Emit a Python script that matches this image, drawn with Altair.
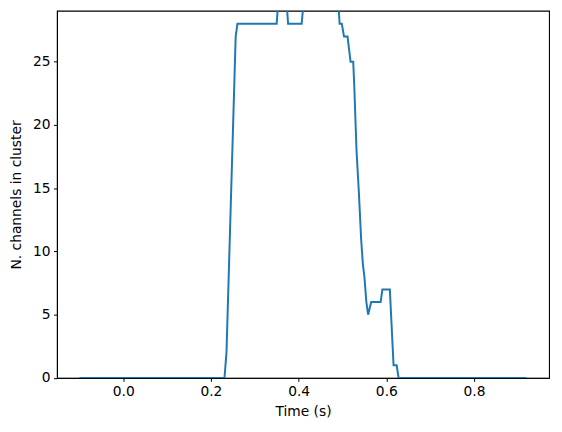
import altair as alt
import pandas as pd

# time (s) and number of channels in cluster
times = [-0.1, 0.231, 0.2355, 0.2565, 0.2605, 0.350, 0.354, 0.372, 0.376, 0.407,
         0.412, 0.490, 0.4935, 0.4985, 0.5035, 0.5115, 0.5185, 0.5245, 0.527,
         0.532, 0.5375, 0.5425, 0.5465, 0.550, 0.5545, 0.5585, 0.5655, 0.587,
         0.591, 0.608, 0.6165, 0.6235, 0.628, 0.92]
counts = [0, 0, 2, 27, 28, 28, 30, 30, 28, 28,
          30, 30, 28, 28, 27, 27, 25, 25, 23,
          18, 14.6, 11, 9, 8, 6, 5, 6, 6,
          7, 7, 1, 1, 0, 0]

x_ticks = [0.0, 0.2, 0.4, 0.6, 0.8]
y_ticks = [0, 5, 10, 15, 20, 25]

df = pd.DataFrame({"t": times, "n": counts})

FONT = "DejaVu Sans"
FS = 13.9

chart = alt.Chart(df).mark_line(color="#1f77b4", strokeWidth=2, clip=True).encode(
    x=alt.X("t:Q",
            scale=alt.Scale(domain=[-0.151, 0.971], nice=False, zero=False),
            axis=alt.Axis(title="Time (s)", values=x_ticks, format=".1f",
                          grid=False, domainColor="black", tickColor="black",
                          tickSize=3.5, labelPadding=3.5, labelFont=FONT,
                          labelFontSize=FS, labelColor="black", titleFont=FONT,
                          titleFontSize=FS, titleFontWeight="normal",
                          titleColor="black", titleY=34, titleBaseline="middle")),
    y=alt.Y("n:Q",
            scale=alt.Scale(domain=[0, 29.04], nice=False),
            axis=alt.Axis(title="N. channels in cluster", values=y_ticks, format="d",
                          grid=False, domainColor="black", tickColor="black",
                          tickSize=3.5, labelPadding=3.5, labelFont=FONT,
                          labelFontSize=FS, labelColor="black", titleFont=FONT,
                          titleFontSize=FS, titleFontWeight="normal",
                          titleColor="black", titleX=-40.6, titleY=185,
                          titleAngle=270, titleAlign="center",
                          titleBaseline="middle")),
).properties(
    width=495.4,
    height=369.7,
    autosize=alt.AutoSizeParams(type="none"),
    padding={"left": 49.3, "top": 1.3, "right": 5, "bottom": 45},
).configure_view(stroke="black", strokeWidth=1.1)

chart.save("out.html", embed_options={"renderer": "svg", "actions": False})
